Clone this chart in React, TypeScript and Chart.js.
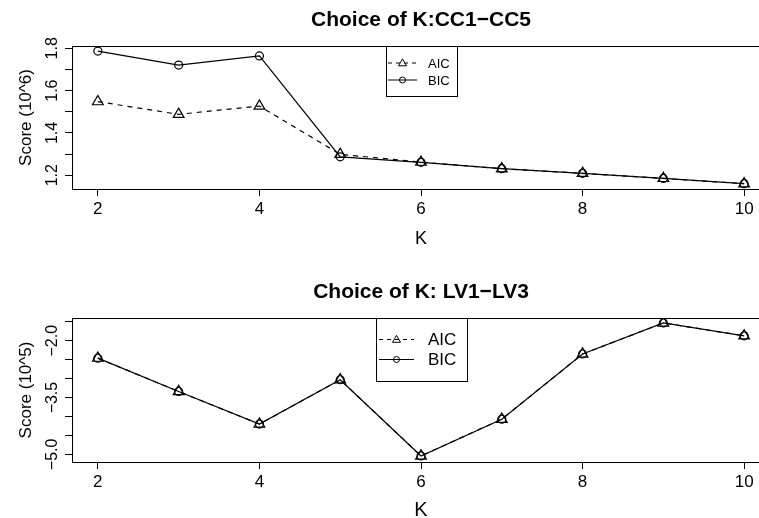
import React, { useEffect, useRef } from 'react';
import { Chart, registerables } from 'chart.js';

Chart.register(...registerables);

// ---------------- data ----------------
const K_VALUES = [2, 3, 4, 5, 6, 7, 8, 9, 10];
const X_TICKS = [2, 4, 6, 8, 10];

const CC_AIC = [1.548, 1.488, 1.527, 1.299, 1.262, 1.231, 1.209, 1.185, 1.160];
const CC_BIC = [1.787, 1.721, 1.764, 1.287, 1.261, 1.231, 1.209, 1.185, 1.160];
const CC_Y_TICKS = [1.2, 1.3, 1.4, 1.5, 1.6, 1.7, 1.8];
const CC_Y_LABELS = ['1.2', '', '1.4', '', '1.6', '', '1.8'];

const LV_AIC = [-2.46, -3.34, -4.2, -3.03, -5.04, -4.07, -2.35, -1.53, -1.87];
const LV_BIC = [-2.46, -3.34, -4.2, -3.03, -5.04, -4.07, -2.35, -1.53, -1.87];
const LV_Y_TICKS = [-5.0, -4.5, -4.0, -3.5, -3.0, -2.5, -2.0, -1.5];
const LV_Y_LABELS = ['\u22125.0', '', '', '\u22123.5', '', '', '\u22122.0', ''];

const CC_TITLE = 'Choice of K:CC1\u2212CC5';
const LV_TITLE = 'Choice of K: LV1\u2212LV3';
const CC_Y_TITLE = 'Score (10^6)';
const LV_Y_TITLE = 'Score (10^5)';
const X_TITLE = 'K';
const LEGEND_LABELS = ['AIC', 'BIC'];

// ---------------- layout / style ----------------
const FONT = '"Liberation Sans", Arial, Helvetica, sans-serif';
const CANVAS_W = 790;
const CANVAS_H = 259;
const LINE_W = 1.2;

interface Panel {
  title: string;
  yTitle: string;
  aic: number[];
  bic: number[];
  yTicks: number[];
  yLabels: string[];
  yMin: number;
  yMax: number;
  top: number;
  areaTop: number;
  areaBottom: number;
  titleBase: number;
  xTitleBase: number;
  xTitleSize: number;
  legend: {
    x0: number; y0: number; x1: number; y1: number;
    rows: number[]; lineX0: number; lineX1: number; symX: number; textX: number;
    font: number;
  };
}

const PANELS: Panel[] = [
  {
    title: CC_TITLE, yTitle: CC_Y_TITLE, aic: CC_AIC, bic: CC_BIC,
    yTicks: CC_Y_TICKS, yLabels: CC_Y_LABELS, yMin: 1.135, yMax: 1.811,
    top: 0, areaTop: 46, areaBottom: 189, titleBase: 26, xTitleBase: 243.5, xTitleSize: 18,
    legend: { x0: 386, y0: 46, x1: 457, y1: 96, rows: [63, 80], lineX0: 388, lineX1: 417, symX: 402.5, textX: 428, font: 13 },
  },
  {
    title: LV_TITLE, yTitle: LV_Y_TITLE, aic: LV_AIC, bic: LV_BIC,
    yTicks: LV_Y_TICKS, yLabels: LV_Y_LABELS, yMin: -5.2, yMax: -1.4,
    top: 259, areaTop: 59, areaBottom: 203, titleBase: 39.3, xTitleBase: 257, xTitleSize: 20,
    legend: { x0: 376, y0: 59, x1: 467, y1: 122, rows: [80.5, 100.5], lineX0: 379, lineX1: 414, symX: 396.5, textX: 428, font: 17 },
  },
];

function drawTriangle(ctx: CanvasRenderingContext2D, x: number, y: number, r: number) {
  ctx.beginPath();
  for (let i = 0; i < 3; i++) {
    const a = (i * 2 * Math.PI) / 3;
    const px = x + Math.sin(a) * r;
    const py = y - Math.cos(a) * r;
    if (i === 0) ctx.moveTo(px, py); else ctx.lineTo(px, py);
  }
  ctx.closePath();
  ctx.stroke();
}

function drawCircle(ctx: CanvasRenderingContext2D, x: number, y: number, r: number) {
  ctx.beginPath();
  ctx.arc(x, y, r, 0, Math.PI * 2);
  ctx.stroke();
}

function decorPlugin(p: Panel) {
  return {
    id: 'decor',
    afterDraw(chart: any) {
      const ctx: CanvasRenderingContext2D = chart.ctx;
      const a = chart.chartArea;
      ctx.save();
      ctx.strokeStyle = '#000';
      ctx.fillStyle = '#000';
      ctx.lineWidth = 1;
      ctx.setLineDash([]);
      // plot box
      const l = Math.round(a.left) + 0.5;
      const t = Math.round(a.top) + 0.5;
      const r = Math.round(a.right) + 0.5;
      const b = Math.round(a.bottom) + 0.5;
      ctx.strokeRect(l, t, r - l, b - t);

      // y tick labels (rotated, as in R)
      const ys = chart.scales.y;
      ctx.font = `16px ${FONT}`;
      ctx.textAlign = 'center';
      ctx.textBaseline = 'alphabetic';
      ys.ticks.forEach((tk: any) => {
        const idx = p.yTicks.findIndex((v) => Math.abs(v - tk.value) < 1e-6);
        const lab = idx >= 0 ? p.yLabels[idx] : '';
        if (!lab) return;
        const py = ys.getPixelForValue(tk.value);
        ctx.save();
        ctx.translate(56.5, py);
        ctx.rotate(-Math.PI / 2);
        ctx.fillText(lab, 0, 0);
        ctx.restore();
      });

      // y axis title
      ctx.font = `17px ${FONT}`;
      ctx.save();
      ctx.translate(30.5, (a.top + a.bottom) / 2);
      ctx.rotate(-Math.PI / 2);
      ctx.fillText(p.yTitle, 0, 0);
      ctx.restore();

      // x axis title
      const cx = (a.left + a.right) / 2;
      ctx.font = `${p.xTitleSize}px ${FONT}`;
      ctx.fillText(X_TITLE, cx, p.xTitleBase);

      // main title
      ctx.font = `bold 21px ${FONT}`;
      ctx.fillText(p.title, cx, p.titleBase);

      // legend
      const lg = p.legend;
      ctx.fillStyle = '#fff';
      ctx.fillRect(lg.x0, lg.y0, lg.x1 - lg.x0, lg.y1 - lg.y0);
      ctx.fillStyle = '#000';
      ctx.strokeRect(lg.x0 + 0.5, lg.y0 + 0.5, lg.x1 - lg.x0, lg.y1 - lg.y0);
      ctx.font = `${lg.font}px ${FONT}`;
      ctx.textAlign = 'left';
      ctx.textBaseline = 'middle';
      LEGEND_LABELS.forEach((lab, i) => {
        const y = lg.rows[i];
        ctx.setLineDash(i === 0 ? [4, 4] : []);
        ctx.beginPath();
        ctx.moveTo(lg.lineX0, y);
        ctx.lineTo(lg.lineX1, y);
        ctx.stroke();
        ctx.setLineDash([]);
        if (i === 0) drawTriangle(ctx, lg.symX, y + 0.5, 4.6);
        else drawCircle(ctx, lg.symX, y, 3);
        ctx.fillText(lab, lg.textX, y + 1);
      });
      ctx.restore();
    },
  };
}

function buildConfig(p: Panel): any {
  const toPts = (arr: number[]) => K_VALUES.map((k, i) => ({ x: k, y: arr[i] }));
  return {
    type: 'line',
    data: {
      datasets: [
        {
          label: LEGEND_LABELS[0],
          data: toPts(p.aic),
          borderColor: '#000',
          borderWidth: LINE_W,
          borderDash: [5, 5],
          pointStyle: 'triangle',
          pointRadius: 6.2,
          pointBorderWidth: LINE_W,
          pointBorderColor: '#000',
          pointBackgroundColor: 'rgba(0,0,0,0)',
          tension: 0,
          fill: false,
        },
        {
          label: LEGEND_LABELS[1],
          data: toPts(p.bic),
          borderColor: '#000',
          borderWidth: LINE_W,
          pointStyle: 'circle',
          pointRadius: 4,
          pointBorderWidth: LINE_W,
          pointBorderColor: '#000',
          pointBackgroundColor: 'rgba(0,0,0,0)',
          tension: 0,
          fill: false,
        },
      ],
    },
    options: {
      responsive: false,
      animation: false,
      events: [],
      layout: { padding: { left: 0, top: p.areaTop, right: CANVAS_W - 770, bottom: 0 } },
      plugins: { legend: { display: false }, tooltip: { enabled: false }, title: { display: false } },
      scales: {
        x: {
          type: 'linear',
          min: 1.68,
          max: 10.32,
          offset: false,
          afterBuildTicks: (s: any) => { s.ticks = X_TICKS.map((v) => ({ value: v })); },
          afterFit: (s: any) => { s.height = CANVAS_H - p.areaBottom; },
          grid: { display: true, drawOnChartArea: false, drawTicks: true, tickLength: 7, color: '#000', lineWidth: 1 },
          border: { display: false },
          ticks: {
            autoSkip: false,
            maxRotation: 0,
            minRotation: 0,
            padding: 3,
            color: '#000',
            font: { family: FONT, size: 17 },
          },
        },
        y: {
          type: 'linear',
          position: 'left',
          min: p.yMin,
          max: p.yMax,
          afterBuildTicks: (s: any) => { s.ticks = p.yTicks.map((v) => ({ value: v })); },
          afterFit: (s: any) => { s.width = 72; },
          grid: { display: true, drawOnChartArea: false, drawTicks: true, tickLength: 7, color: '#000', lineWidth: 1 },
          border: { display: false },
          ticks: { display: false },
        },
      },
    },
    plugins: [decorPlugin(p)],
  };
}

function PanelChart({ panel }: { panel: Panel }) {
  const ref = useRef<HTMLCanvasElement | null>(null);
  useEffect(() => {
    if (!ref.current) return;
    const chart = new Chart(ref.current, buildConfig(panel));
    return () => chart.destroy();
  }, [panel]);
  return (
    <canvas
      ref={ref}
      width={CANVAS_W}
      height={CANVAS_H}
      style={{ position: 'absolute', left: 0, top: panel.top, width: CANVAS_W, height: CANVAS_H, display: 'block' }}
    />
  );
}

export default function App() {
  return (
    <div
      style={{
        position: 'fixed',
        left: 0,
        top: 0,
        width: 759,
        height: 518,
        overflow: 'hidden',
        background: '#fff',
      }}
    >
      {PANELS.map((p, i) => (
        <PanelChart key={i} panel={p} />
      ))}
    </div>
  );
}
